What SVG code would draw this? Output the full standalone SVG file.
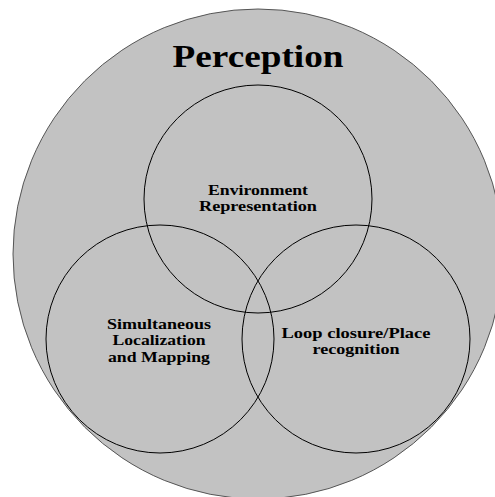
<svg xmlns="http://www.w3.org/2000/svg" width="495" height="497" viewBox="0 0 495 497">
<style>
.bg{fill:#c2c2c2;stroke:#555;stroke-width:1}
.c{fill:none;stroke:#000;stroke-width:1}
text{font-family:"Liberation Serif","DejaVu Serif",serif;font-weight:bold;fill:#000;text-anchor:middle}
.t{font-size:32px}
.l{font-size:14px}
</style>
<rect width="495" height="497" fill="#fff"/>
<g id="perception">
<circle class="bg" cx="258" cy="254" r="245"/>
<text class="t" x="258" y="67" textLength="171" lengthAdjust="spacingAndGlyphs">Perception</text>
</g>
<g id="environment">
<circle class="c" cx="258" cy="199" r="114"/>
<text class="l" x="258" y="195" textLength="100" lengthAdjust="spacingAndGlyphs">Environment</text>
<text class="l" x="258" y="211" textLength="118" lengthAdjust="spacingAndGlyphs">Representation</text>
</g>
<g id="slam">
<circle class="c" cx="160" cy="339" r="114"/>
<text class="l" x="159" y="329" textLength="104" lengthAdjust="spacingAndGlyphs">Simultaneous</text>
<text class="l" x="159" y="345" textLength="93" lengthAdjust="spacingAndGlyphs">Localization</text>
<text class="l" x="159" y="362" textLength="102" lengthAdjust="spacingAndGlyphs">and Mapping</text>
</g>
<g id="loop">
<circle class="c" cx="356" cy="339" r="114"/>
<text class="l" x="356" y="338" textLength="149" lengthAdjust="spacingAndGlyphs">Loop closure/Place</text>
<text class="l" x="356" y="354" textLength="87" lengthAdjust="spacingAndGlyphs">recognition</text>
</g>
<g id="connectors"/>
</svg>
